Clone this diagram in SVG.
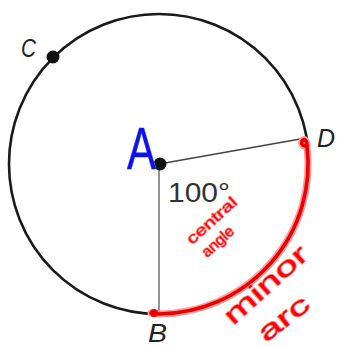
<svg xmlns="http://www.w3.org/2000/svg" width="339" height="347" viewBox="0 0 339 347">
<style>
.lbl{font-family:"Liberation Sans",Arial,sans-serif;font-style:italic;font-size:26px;fill:#222}
.deg{font-family:"Liberation Sans",Arial,sans-serif;font-size:27px;fill:#333}
.hand{font-family:"Liberation Sans",Arial,sans-serif;fill:#ff0000;stroke:#ff9999;stroke-width:1.4;paint-order:stroke;stroke-linejoin:round}
.dot{fill:#111}
</style>
<rect width="339" height="347" fill="#fff"/>
<g id="circle">
<circle cx="159" cy="164" r="150" fill="none" stroke="#1a1a1a" stroke-width="2.6"/>
</g>
<g id="connectors">
<line x1="159" y1="164" x2="159" y2="314" stroke="#666" stroke-width="1.4"/>
<line x1="159" y1="164" x2="306" y2="138" stroke="#444" stroke-width="1.4"/>
</g>
<g id="minor-arc">
<path d="M151,313 L159,314 A150,150 0 0 0 307,146 C307,140 304,138 302,141 C301,143 302,146 305,146" fill="none" stroke="#ff9a9a" stroke-width="7" stroke-linecap="round"/>
<path d="M151,313 L159,314 A150,150 0 0 0 307,146 C307,140 304,138 302,141 C301,143 302,146 305,146" fill="none" stroke="#ee0000" stroke-width="3.6" stroke-linecap="round"/>
<circle cx="154" cy="313" r="4" fill="#ee0000"/>
</g>
<g id="node-A">
<circle class="dot" cx="160" cy="164" r="6.5"/>
<text x="127" y="169" font-family="'Liberation Sans',Arial,sans-serif" font-size="60" fill="#1010ee" stroke="#8899ff" stroke-width="1" paint-order="stroke" textLength="29" lengthAdjust="spacingAndGlyphs">A</text>
</g>
<g id="node-B">
<text class="lbl" x="148" y="342" textLength="19" lengthAdjust="spacingAndGlyphs">B</text>
</g>
<g id="node-C">
<circle class="dot" cx="53" cy="57" r="6.5"/>
<text class="lbl" x="21" y="57" textLength="15" lengthAdjust="spacingAndGlyphs">C</text>
</g>
<g id="node-D">
<text class="lbl" x="317" y="147" textLength="18" lengthAdjust="spacingAndGlyphs">D</text>
</g>
<g id="angle-label">
<text class="deg" x="168" y="202" textLength="62" lengthAdjust="spacingAndGlyphs">100°</text>
</g>
<g id="central-angle-note">
<text class="hand" font-size="15" transform="translate(192,245) rotate(-42)" textLength="62" lengthAdjust="spacingAndGlyphs">central</text>
<text class="hand" font-size="15" transform="translate(207,258) rotate(-42)" textLength="38" lengthAdjust="spacingAndGlyphs">angle</text>
</g>
<g id="minor-arc-note">
<text class="hand" font-size="26" transform="translate(233,326) rotate(-42)" textLength="104" lengthAdjust="spacingAndGlyphs">minor</text>
<text class="hand" font-size="26" transform="translate(266,343) rotate(-38)" textLength="58" lengthAdjust="spacingAndGlyphs">arc</text>
</g>
</svg>
